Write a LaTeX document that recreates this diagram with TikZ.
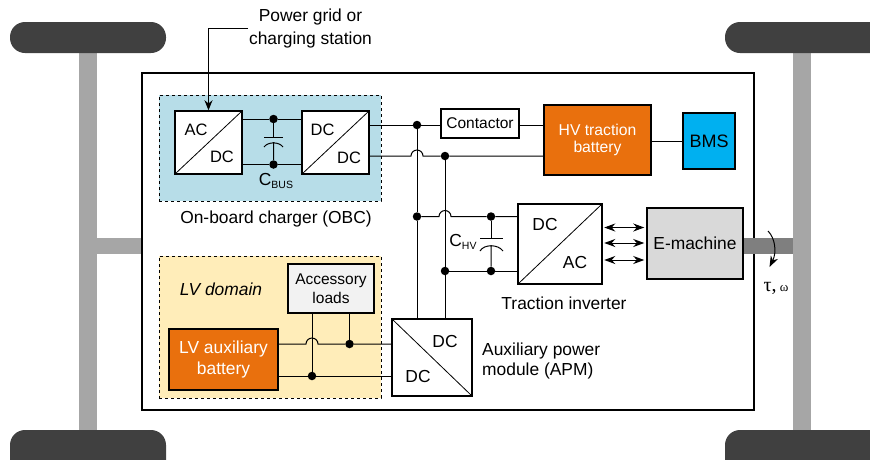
\documentclass[tikz,border=0pt]{standalone}
\usepackage{fontspec}
\setmainfont{Liberation Sans}
\newfontfamily\serifgreek{Liberation Serif}
\usetikzlibrary{positioning,calc,arrows.meta}
\definecolor{wheeldark}{HTML}{404040}
\definecolor{axlegray}{HTML}{A6A6A6}
\definecolor{shaftgray}{HTML}{7F7F7F}
\definecolor{obcblue}{HTML}{B7DDE8}
\definecolor{lvyellow}{HTML}{FFEDB9}
\definecolor{battorange}{HTML}{E9700D}
\definecolor{bmsblue}{HTML}{00B0F0}
\definecolor{emachgray}{HTML}{D9D9D9}
\definecolor{accgray}{HTML}{F2F2F2}
\newcommand{\fsize}[1]{\fontsize{#1}{#1}\selectfont}
\newcommand{\sublabel}[2]{#1\raisebox{-2.5pt}{\fsize{10.5}#2}}
\tikzset{
	wheel/.style={fill=wheeldark,rounded corners=15pt},
	domainbox/.style={draw,dashed,line width=0.7pt,minimum width=222pt},
	blockbox/.style={draw,line width=1.5pt,inner sep=0pt,align=center,font=\fsize{17.4}},
	convup/.style={blockbox,fill=white,path picture={\draw[line width=0.8pt] (path picture bounding box.south west) -- (path picture bounding box.north east);}},
	convdown/.style={blockbox,fill=white,path picture={\draw[line width=0.8pt] (path picture bounding box.north west) -- (path picture bounding box.south east);}},
	lbl/.style={inner sep=0pt,align=center,font=\fsize{17.4}},
	convlbl/.style={inner sep=0pt,font=\fsize{16.5}},
	wire/.style={line width=1pt},
	dot/.style={circle,fill=black,inner sep=0pt,minimum size=8.5pt},
	biarrow/.style={line width=1pt,{Stealth[length=11pt,width=8pt]}-{Stealth[length=11pt,width=8pt]},shorten <=1.5pt,shorten >=2pt}
}
\begin{document}
\begin{tikzpicture}[x=1pt,y=-1pt]
	\clip (0,0) rectangle (870,459);
	% chassis
	\fill[axlegray] (79,40) rectangle (97,440);
	\fill[axlegray] (793,40) rectangle (811,440);
	\fill[axlegray] (97,238) rectangle (142,254);
	\fill[wheel] (10,22) rectangle (166,53);
	\fill[wheel] (725,22) rectangle (890,53);
	\fill[wheel] (10,430) rectangle (166,490);
	\fill[wheel] (725,430) rectangle (890,490);
	\draw[line width=1.5pt,fill=white] (142,73) rectangle (754,410);
	\fill[shaftgray] (743,238) rectangle (793,254);
	% domains
	\node[domainbox,fill=obcblue,minimum height=106pt] (obc) at (270,148) {};
	\node[domainbox,fill=lvyellow,minimum height=142pt] (lvdom) at (270,327) {};
	\node[lbl] (obclbl) at (276,219) {On-board charger (OBC)};
	\node[lbl,font=\fsize{17.4}\itshape] (lvlbl) at (221,289) {LV domain};
	% blocks
	\node[convup,minimum width=67pt,minimum height=63pt] (acdc) at (208.5,142.5) {};
	\node[convup,minimum width=67pt,minimum height=63pt] (dcdc) at (335.5,142.5) {};
	\node[convup,minimum width=84pt,minimum height=80pt] (inv) at (560,244) {};
	\node[convdown,minimum width=80pt,minimum height=77pt] (apm) at (432,357.5) {};
	\node[blockbox,font=\fsize{15.5},minimum width=78pt,minimum height=29pt] (cont) at (480,123.5) {Contactor};
	\node[blockbox,fill=battorange,text=white,font=\fsize{15.7},minimum width=107pt,minimum height=70pt] (hvbat) at (597.5,140) {HV traction\\[2pt]battery};
	\node[blockbox,fill=bmsblue,font=\fsize{18},minimum width=52pt,minimum height=56pt] (bms) at (709,141) {BMS};
	\node[blockbox,fill=emachgray,minimum width=96pt,minimum height=71pt] (emach) at (695,243.5) {E-machine};
	\node[blockbox,fill=accgray,font=\fsize{15.5},minimum width=86pt,minimum height=49pt] (acc) at (331,288.5) {Accessory\\[4pt]loads};
	\node[blockbox,fill=battorange,text=white,minimum width=109pt,minimum height=61pt] (lvbat) at (223.5,359.5) {LV auxiliary\\[3pt]battery};
	% converter texts
	\node[convlbl] (acdca) at (196,130) {AC};
	\node[convlbl] (acdcb) at (222,157) {DC};
	\node[convlbl] (dcdca) at (322.5,130) {DC};
	\node[convlbl] (dcdcb) at (349,158) {DC};
	\node[lbl] (inva) at (545,225) {DC};
	\node[lbl] (invb) at (575,262.5) {AC};
	\node[lbl] (apma) at (445,342) {DC};
	\node[lbl] (apmb) at (418,377) {DC};
	% other labels
	\node[lbl] (gridlbl) at (310.5,28.5) {Power grid or\\[5pt]charging station};
	\node[lbl] (invlbl) at (564,303) {Traction inverter};
	\node[lbl,align=left,anchor=west] (apmlbl) at (482,361) {Auxiliary power\\[2pt]module (APM)};
	\node[lbl] (cbuslbl) at (276,181) {\sublabel{C}{BUS}};
	\node[lbl] (chvlbl) at (463,242) {\sublabel{C}{HV}};
	\node[inner sep=0pt] (torquelbl) at (776,288) {\serifgreek\fsize{20}τ,\fsize{13} ω};
	% junctions
	\node[dot] (busa) at (273.5,119) {};
	\node[dot] (busb) at (273.5,164.5) {};
	\node[dot] (hva) at (417,125) {};
	\node[dot] (hvb) at (445,156) {};
	\node[dot] (inpa) at (417,216.5) {};
	\node[dot] (inpb) at (445,271) {};
	\node[dot] (chva) at (491,216.5) {};
	\node[dot] (chvb) at (491,271) {};
	\node[dot] (lva) at (349.5,344) {};
	\node[dot] (lvb) at (312,376) {};
	% power grid input
	\coordinate (gridend) at (248,28);
	\coordinate (gridbend) at (208.5,28);
	\draw[wire,-{Stealth[length=10pt,width=8pt]}] (gridend) -- (gridbend) -- (acdc.north -| gridbend);
	% obc wires
	\draw[wire] (acdc.east |- busa) -- (busa) -- (dcdc.west |- busa);
	\draw[wire] (acdc.east |- busb) -- (busb) -- (dcdc.west |- busb);
	\coordinate (busplate) at (273.5,137);
	\coordinate (buscurve) at (273.5,142);
	\draw[wire] (busa) -- (busplate) (264,137) -- (283,137);
	\draw[wire] (buscurve) -- (busb) (264,147) .. controls (268,141.5) and (279,141.5) .. (283,147);
	% hv bus
	\draw[wire] (dcdc.east |- hva) -- (hva) -- (cont.west |- hva);
	\draw[wire] (cont.east |- hva) -- (hvbat.west |- hva);
	\draw[wire] (dcdc.east |- hvb) -- ($(hva |- hvb)+(-6,0)$) arc[start angle=180,end angle=360,radius=6] -- (hvb) -- (hvbat.west |- hvb);
	\draw[wire] (hvbat.east |- bms) -- (bms.west);
	\draw[wire] (hva) -- (inpa) -- (apm.north -| inpa);
	\draw[wire] (hvb) -- (inpb) -- (apm.north -| inpb);
	% inverter side
	\draw[wire] (inpa) -- ($(hvb |- inpa)+(-6,0)$) arc[start angle=180,end angle=360,radius=6] -- (chva) -- (inv.west |- chva);
	\draw[wire] (inpb) -- (chvb) -- (inv.west |- chvb);
	\coordinate (hvplate) at (491,238);
	\coordinate (hvcurve) at (491,245);
	\draw[wire] (chva) -- (hvplate) (480,238) -- (503,238);
	\draw[wire] (hvcurve) -- (chvb) (480,251) .. controls (484,244) and (498,244) .. (503,251);
	\foreach \yy in {227.5,243,260}
		\draw[biarrow] (inv.east |- 0,\yy) -- (emach.west |- 0,\yy);
	% lv side
	\draw[wire] (lvbat.east |- lva) -- ($(lvb |- lva)+(-6,0)$) arc[start angle=180,end angle=360,radius=6] -- (lva) -- (apm.west |- lva);
	\draw[wire] (lvbat.east |- lvb) -- (lvb) -- (apm.west |- lvb);
	\draw[wire] (acc.south -| lvb) -- (lvb);
	\draw[wire] (acc.south -| lva) -- (lva);
	% torque
	\coordinate (rota) at (768,231);
	\coordinate (rotb) at (769.5,267);
	\draw[wire,-{Stealth[length=11pt,width=8pt]}] (rota) .. controls (775,238) and (777,252) .. (rotb);
\end{tikzpicture}
\end{document}
